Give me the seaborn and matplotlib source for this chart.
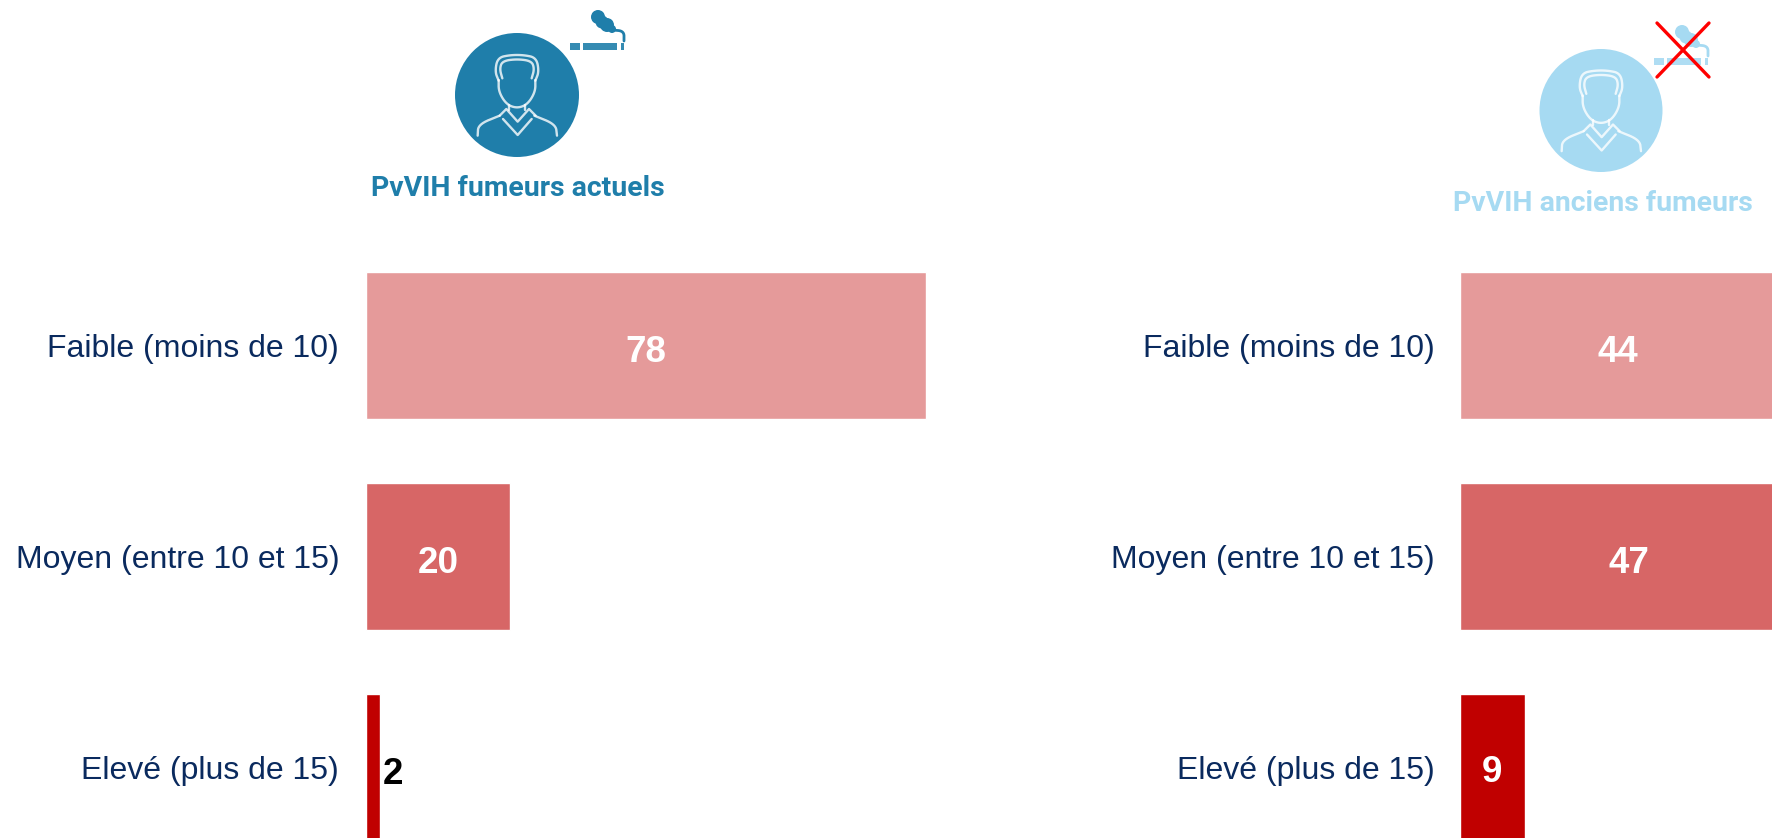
import numpy as np
import pandas as pd
import seaborn as sns
import matplotlib.pyplot as plt
from matplotlib.patches import Circle, Rectangle

# Chart values
categories = ['Faible (moins de 10)', 'Moyen (entre 10 et 15)', 'Elevé (plus de 15)']
fumeurs_actuels = [78, 20, 2]
anciens_fumeurs = [44, 47, 9]
bar_colors = ['#E59A9A', '#D76666', '#C00000']
label_colors_actuels = ['white', 'white', 'black']
label_colors_anciens = ['white', 'white', 'white']

W, H = 1772, 838
DARK_BLUE = '#1F7EAA'
LIGHT_BLUE = '#A6DAF2'
NAVY = '#0A2A5E'

sns.set_theme(style='white')
plt.rcParams['font.family'] = ['Liberation Sans', 'DejaVu Sans']

fig = plt.figure(figsize=(W / 100, H / 100), dpi=100, facecolor='white')


def draw_panel(left_px, right_px, px_per_unit, values, label_colors, pad):
    ax = fig.add_axes([left_px / W, 0, (right_px - left_px) / W, 1])
    df = pd.DataFrame({'categorie': categories, 'valeur': values})
    sns.barplot(data=df, y='categorie', x='valeur', hue='categorie', hue_order=categories,
                palette=bar_colors, dodge=False, width=0.697, saturation=1,
                legend=False, ax=ax)
    ax.set_xlim(0, (right_px - left_px) / px_per_unit)
    # first row centre sits 345.5px below the top, rows are 211px apart
    ax.set_ylim((H - 345.5) / 211, -345.5 / 211)
    ax.set_xlabel('')
    ax.set_ylabel('')
    ax.set_xticks([])
    sns.despine(ax=ax, left=True, bottom=True)
    ax.tick_params(axis='y', length=0, pad=pad, labelsize=23, labelcolor=NAVY)
    ax.patch.set_alpha(0)
    for cont, val, col in zip(ax.containers, values, label_colors):
        if val < 5:
            anns = ax.bar_label(cont, labels=[str(val)], label_type='edge', padding=2,
                                color=col, fontsize=26.5, fontweight='bold')
        else:
            anns = ax.bar_label(cont, labels=[str(val)], label_type='center',
                                color=col, fontsize=26.5, fontweight='bold')
        # digits sit a bit below the bar centre in the original
        for a in anns:
            x, y = a.get_position()
            a.set_position((x, y - 4.9))
    return ax


# axes run past the right edge so the clipped bars keep their full length
ax1 = draw_panel(366, 1100, 7.18, fumeurs_actuels, label_colors_actuels, 19.3)
ax2 = draw_panel(1460, 2000, 7.18, anciens_fumeurs, label_colors_anciens, 18.3)

# header icons, drawn in pixel coordinates on an overlay
ov = fig.add_axes([0, 0, 1, 1])
ov.set_xlim(0, W)
ov.set_ylim(H, 0)
ov.axis('off')
ov.patch.set_alpha(0)


def smooth(points, n=3):
    # corner cutting, endpoints stay put
    pts = np.array(points, dtype=float)
    for _ in range(n):
        q = 0.75 * pts[:-1] + 0.25 * pts[1:]
        r = 0.25 * pts[:-1] + 0.75 * pts[1:]
        mid = np.empty((2 * len(q), 2))
        mid[0::2] = q
        mid[1::2] = r
        pts = np.vstack([pts[0], mid, pts[-1]])
    return pts


def person(cx, cy, r, color):
    ov.add_patch(Circle((cx, cy), r, fc=color, ec='none'))
    curves = [
        [(-55, -43), (-66, -70), (-58, -112), (-20, -120), (20, -120), (58, -112), (66, -70), (55, -43)],
        [(-44, -50), (-52, -78), (-44, -102), (0, -108), (44, -102), (52, -78), (44, -50)],
        [(-55, -45), (-55, -10), (-32, 28), (0, 40), (32, 28), (55, -10), (55, -45)],
        [(-118, 122), (-116, 88), (-52, 62)],
        [(52, 62), (116, 88), (120, 122)],
    ]
    lines = [
        [(-52, 62), (-32, 42), (2, 80), (36, 42), (56, 62)],
        [(-42, 72), (2, 120), (44, 72)],
        [(-25, 30), (-25, 44)],
        [(25, 30), (25, 44)],
    ]
    for p in curves:
        xy = smooth(p) / 3
        ov.plot(cx + xy[:, 0], cy + xy[:, 1], color='white', lw=1.7, alpha=0.8,
                solid_capstyle='round')
    for p in lines:
        xy = np.array(p, dtype=float) / 3
        ov.plot(cx + xy[:, 0], cy + xy[:, 1], color='white', lw=1.7, alpha=0.8,
                solid_joinstyle='round', solid_capstyle='round')


def cigarette(x0, y0, color):
    for dx, w in [(0, 10), (13, 34), (51, 3.5)]:
        ov.add_patch(Rectangle((x0 + dx, y0), w, 7, fc=color, ec='none', alpha=0.9))
    for dx, dy, r in [(28, -26, 7), (32, -21, 6.5), (37, -18, 7), (42, -14, 4)]:
        ov.add_patch(Circle((x0 + dx, y0 - 0 + dy), r, fc=color, ec='none'))
    xy = smooth([(42, -13), (54, -12), (54, -2)])
    ov.plot(x0 + xy[:, 0], y0 + xy[:, 1], color=color, lw=2)


person(517, 95, 62, DARK_BLUE)
cigarette(570, 43, DARK_BLUE)
person(1601, 110.5, 61.5, LIGHT_BLUE)
cigarette(1654, 58, LIGHT_BLUE)
ov.plot([1657, 1709], [23, 77], color='#FF0000', lw=2.4)
ov.plot([1657, 1709], [77, 23], color='#FF0000', lw=2.4)

ov.text(518, 188, 'PvVIH fumeurs actuels', color=DARK_BLUE, fontsize=20.4, fontweight='bold',
        family=['Roboto', 'DejaVu Sans'], ha='center', va='center')
ov.text(1603, 203, 'PvVIH anciens fumeurs', color=LIGHT_BLUE, fontsize=20.4, fontweight='bold',
        family=['Roboto', 'DejaVu Sans'], ha='center', va='center')

fig.savefig('out.png', dpi=100)
